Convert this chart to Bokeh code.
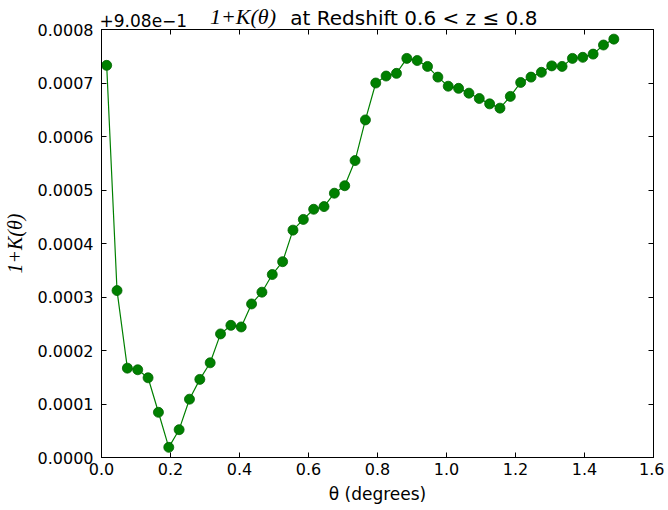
from bokeh.plotting import figure
from bokeh.models import LinearAxis, FixedTicker, PrintfTickFormatter, Range1d, ColumnDataSource
from bokeh.embed import file_html
from bokeh.resources import INLINE

# ---- data ----
theta = [0.015, 0.045, 0.075, 0.105, 0.135, 0.165, 0.195, 0.225, 0.255, 0.285,
         0.315, 0.345, 0.375, 0.405, 0.435, 0.465, 0.495, 0.525, 0.555, 0.585,
         0.615, 0.645, 0.675, 0.705, 0.735, 0.765, 0.795, 0.825, 0.855, 0.885,
         0.915, 0.945, 0.975, 1.005, 1.035, 1.065, 1.095, 1.125, 1.155, 1.185,
         1.215, 1.245, 1.275, 1.305, 1.335, 1.365, 1.395, 1.425, 1.455, 1.485]
offset = 0.908
k_minus_offset = [0.000733, 0.000312, 0.000167, 0.000164, 0.000149, 0.0000845, 0.0000190, 0.0000520, 0.000109, 0.000146,
                  0.000177, 0.000231, 0.000247, 0.000244, 0.000287, 0.000309, 0.000342, 0.000366, 0.000425, 0.000445,
                  0.000464, 0.000469, 0.000494, 0.000508, 0.000555, 0.000631, 0.000700, 0.000713, 0.000718, 0.000746,
                  0.000742, 0.000731, 0.000711, 0.000694, 0.000690, 0.000681, 0.000671, 0.000661, 0.000653, 0.000675,
                  0.000701, 0.000711, 0.000720, 0.000732, 0.000731, 0.000746, 0.000748, 0.000754, 0.000771, 0.000782]
x_ticks = [0.0, 0.2, 0.4, 0.6, 0.8, 1.0, 1.2, 1.4, 1.6]
y_ticks = [0.0, 0.0001, 0.0002, 0.0003, 0.0004, 0.0005, 0.0006, 0.0007, 0.0008]
title_math = "1+K(θ)"
title_text = "at Redshift 0.6 < z ≤ 0.8"
offset_text = "+9.08e\u22121"
x_label = "θ (degrees)"
y_label = "1+K(θ)"

src = ColumnDataSource(dict(x=theta, y=k_minus_offset))

# frame in the reference: x 99..653, y 28..457 (page pixels)
p = figure(width=664, height=508, output_backend="svg", toolbar_location=None,
           x_range=Range1d(0, 1.6), y_range=Range1d(0, 0.0008),
           min_border_left=99, min_border_right=11, min_border_top=28, min_border_bottom=51,
           background_fill_color="white", border_fill_color="white")
p.grid.visible = False
p.outline_line_color = "black"
p.outline_line_width = 1

GREEN = "#008000"
p.line("x", "y", source=src, line_color=GREEN, line_width=1.2)
p.scatter("x", "y", source=src, size=10, fill_color=GREEN, line_color="#006400", line_width=0.8)

def style(ax, ticks, fmt, show):
    ax.ticker = FixedTicker(ticks=ticks)
    ax.formatter = PrintfTickFormatter(format=fmt)
    ax.major_tick_in = 5
    ax.major_tick_out = 0
    ax.minor_tick_line_color = None
    ax.axis_line_color = "black"
    ax.major_tick_line_color = "black"
    ax.major_label_text_font = "DejaVu Sans"
    ax.major_label_text_font_size = "16px" if show else "0px"
    ax.major_label_text_color = "black"
    if not show:
        ax.major_label_standoff = 0

xa = p.xaxis[0]
ya = p.yaxis[0]
style(xa, x_ticks, "%.1f", True)
style(ya, y_ticks, "%.4f", True)
xa.major_label_standoff = 5
ya.major_label_standoff = 8
xa.axis_label = x_label
xa.axis_label_text_font = "DejaVu Sans"
xa.axis_label_text_font_style = "normal"
xa.axis_label_text_font_size = "17px"
xa.axis_label_text_color = "black"
xa.axis_label_standoff = 6
ya.axis_label = y_label
ya.axis_label_text_font = "Liberation Serif"
ya.axis_label_text_font_style = "italic"
ya.axis_label_text_font_size = "20px"
ya.axis_label_text_color = "black"
ya.axis_label_standoff = 9

top = LinearAxis()
right = LinearAxis()
style(top, x_ticks, "%.1f", False)
style(right, y_ticks, "%.4f", False)
p.add_layout(top, "above")
p.add_layout(right, "right")

def px_to_x(px):
    # page pixel -> data x (frame spans 99..653 px for 0..1.6)
    return (px - 99) / 346.25

def text_axis(pos, text, font, size, style_, standoff):
    ax = LinearAxis(ticker=FixedTicker(ticks=[pos]), major_label_overrides={pos: text})
    ax.axis_line_color = None
    ax.major_tick_line_color = None
    ax.minor_tick_line_color = None
    ax.major_tick_in = 0
    ax.major_tick_out = 0
    ax.major_label_standoff = standoff
    ax.major_label_text_font = font
    ax.major_label_text_font_size = size
    ax.major_label_text_font_style = style_
    ax.major_label_text_color = "black"
    p.add_layout(ax, "above")
    return ax

# title row, built from tick-less axes above the plot
text_axis(px_to_x((287 + 538) / 2), title_text, "DejaVu Sans", "20px", "normal", 0)
text_axis(px_to_x((203 + 279) / 2), title_math, "Liberation Serif", "22px", "italic", -26)
text_axis(px_to_x((97 + 185) / 2), offset_text, "DejaVu Sans", "17px", "normal", -26)

open("out.html", "w").write(file_html(p, INLINE))
